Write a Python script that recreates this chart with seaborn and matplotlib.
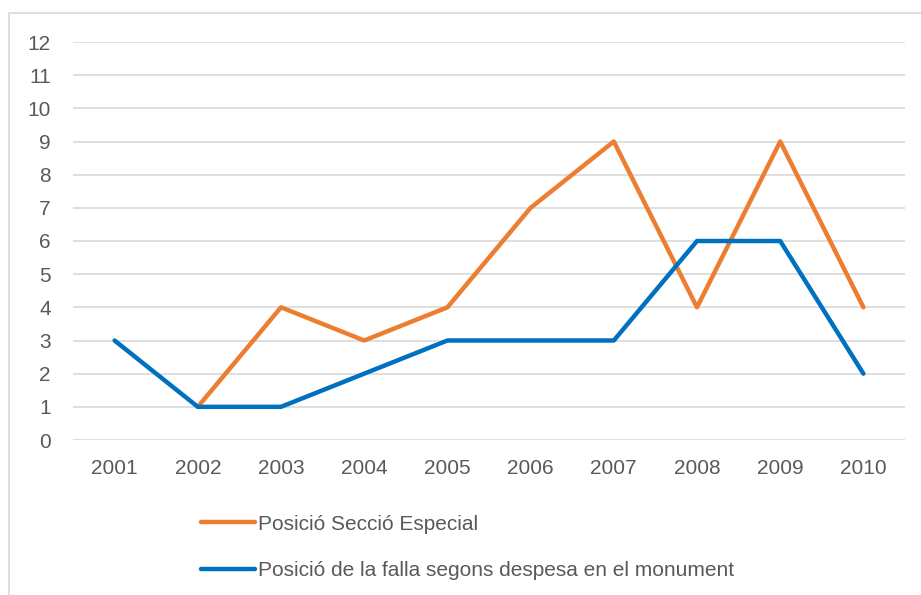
import pandas as pd
import matplotlib.pyplot as plt
import seaborn as sns
from matplotlib.patches import Rectangle

# dades llegides del gràfic
years = [2001, 2002, 2003, 2004, 2005, 2006, 2007, 2008, 2009, 2010]
seccio_especial = [None, 1, 4, 3, 4, 7, 9, 4, 9, 4]
despesa_monument = [3, 1, 1, 2, 3, 3, 3, 6, 6, 2]
y_ticks = list(range(0, 13))

label_orange = "Posició Secció Especial"
label_blue = "Posició de la falla segons despesa en el monument"

df = pd.DataFrame({
    "Any": years,
    label_orange: seccio_especial,
    label_blue: despesa_monument,
})

sns.set_style("white")
plt.rcParams["font.family"] = ["Liberation Sans", "DejaVu Sans"]
gray = "#595959"

fig = plt.figure(figsize=(9.21, 5.95), dpi=100)
ax = fig.add_axes([73 / 921, 1 - 440 / 595, (905 - 73) / 921, (440 - 42) / 595])

# marc del gràfic (retallat a la dreta i a baix)
fig.patches.append(Rectangle((9 / 921, -0.1), 1.2, 1 - 13 / 595 + 0.1,
                             transform=fig.transFigure, fill=False,
                             edgecolor="#d9d9d9", linewidth=1.2))

sns.lineplot(data=df, x="Any", y=label_orange, ax=ax, color="#ED7D31",
             linewidth=3.2, label=label_orange)
sns.lineplot(data=df, x="Any", y=label_blue, ax=ax, color="#0070C0",
             linewidth=3.2, label=label_blue)

ax.set_xlim(years[0] - 0.5, years[-1] + 0.5)
ax.set_ylim(0, 12)
ax.set_xticks(years)
ax.set_xticklabels([str(y) for y in years])
ax.set_yticks(y_ticks)
ax.grid(axis="y", color="#d9d9d9", linewidth=1.2)
ax.set_axisbelow(True)
for s in ax.spines.values():
    s.set_visible(False)
ax.set_xlabel("")
ax.set_ylabel("")
ax.tick_params(axis="both", length=0, labelsize=15, colors=gray)
ax.tick_params(axis="x", pad=14)
ax.tick_params(axis="y", pad=16)

handles, labels = ax.get_legend_handles_labels()
ax.get_legend().remove()
leg = fig.legend(handles, labels, loc="upper left",
                 bbox_to_anchor=(182 / 921, 1 - 496 / 595),
                 frameon=False, fontsize=15, handlelength=2.6,
                 handletextpad=0.15, labelspacing=1.3, labelcolor=gray)

fig.savefig("out.png", dpi=100)
